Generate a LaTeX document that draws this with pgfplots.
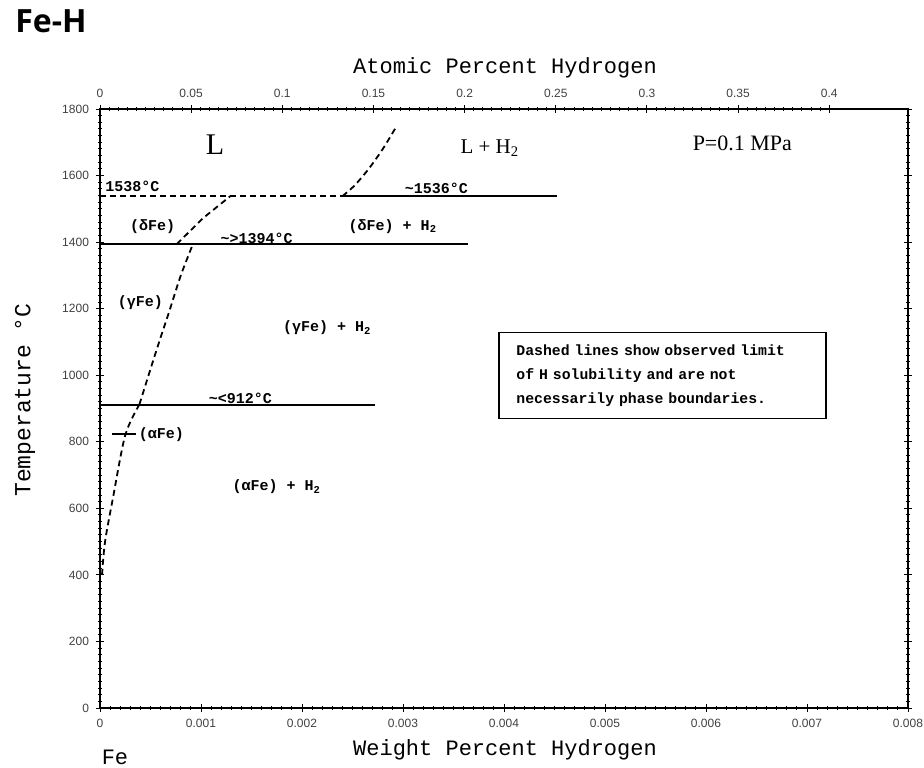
\documentclass[border=0pt]{standalone}
\usepackage{pgfplots}
\pgfplotsset{compat=1.18}
\usepackage{fontspec}
\setmainfont{Liberation Serif}
\newfontfamily\mono{Liberation Mono}
\newfontfamily\sans{Liberation Sans}
\newfontfamily\titlefont{Open Sans}
\tikzset{
  lbl/.style={font=\mono\bfseries\fontsize{7.5}{9}\selectfont},
  dsh/.style={black, line width=0.9pt, dash pattern=on 3pt off 2pt},
  sol/.style={black, line width=1pt},
}
\begin{document}
\begin{tikzpicture}
\pgfplotsset{
  common/.style={
    at={(0,0)}, anchor=south west, scale only axis,
    width=404pt, height=299.5pt,
    ymin=0, ymax=1800,
    tick align=center,
    major tick length=4pt, minor tick length=2pt,
    every tick/.style={black, line width=0.5pt},
    axis line style={line width=0.7pt},
    tick label style={font=\sans\fontsize{6}{7}\selectfont, text=black!75},
    /pgf/number format/assume math mode=true,
    /pgf/number format/1000 sep={},
    clip=false,
  }
}
\begin{axis}[common,
  xmin=0, xmax=0.008,
  xtick={0,0.001,0.002,0.003,0.004,0.005,0.006,0.007,0.008},
  xticklabels={0,0.001,0.002,0.003,0.004,0.005,0.006,0.007,0.008},
  scaled x ticks=false,
  ytick={0,200,400,600,800,1000,1200,1400,1600,1800},
  minor x tick num=9, minor y tick num=9,
  xtick pos=left, ytick pos=both, yticklabel pos=left,
]
% horizontal invariant lines
\addplot[dsh] coordinates {(0,1538) (0.00240,1538)};
\addplot[sol] coordinates {(0.00240,1538) (0.00452,1538)};
\addplot[sol] coordinates {(0,1394) (0.00364,1394)};
\addplot[sol] coordinates {(0,912) (0.00272,912)};
% liquidus (L / L+H2)
\addplot[dsh, smooth] coordinates {(0.00240,1538) (0.00252,1570) (0.00266,1620) (0.00280,1680) (0.00293,1745)};
% delta solvus
\addplot[dsh] coordinates {(0.00076,1394) (0.00102,1472) (0.00129,1538)};
% gamma solvus
\addplot[dsh, smooth] coordinates {(0.00039,912) (0.00056,1076) (0.00069,1196) (0.00080,1300) (0.00092,1394)};
% alpha solvus
\addplot[dsh, smooth] coordinates {(0.00002,400) (0.00005,500) (0.00013,634) (0.00025,820) (0.00039,912)};

\node[font=\rmfamily\fontsize{15}{16}\selectfont] at (axis cs:0.00114,1692) {L};
\node[font=\rmfamily\fontsize{10.5}{12}\selectfont] at (axis cs:0.00386,1683) {L + H\textsubscript{2}};
\node[font=\rmfamily\fontsize{11}{12}\selectfont] at (axis cs:0.00636,1698) {P=0.1 MPa};
\node[lbl, anchor=west, inner sep=0pt] at (axis cs:0.00005,1569) {1538°C};
\node[lbl] at (axis cs:0.00333,1563) {\textasciitilde1536°C};
\node[lbl] at (axis cs:0.00052,1448) {(δFe)};
\node[lbl] at (axis cs:0.00290,1448) {(δFe) + H\textsubscript{2}};
\node[lbl] at (axis cs:0.00155,1412) {\textasciitilde>1394°C};
\node[lbl] at (axis cs:0.00040,1217) {(γFe)};
\node[lbl] at (axis cs:0.00225,1142) {(γFe) + H\textsubscript{2}};
\node[lbl] at (axis cs:0.00139,931) {\textasciitilde<912°C};
\draw[line width=0.8pt] (axis cs:0.00012,823) -- (axis cs:0.00036,823);
\node[lbl, anchor=west, inner sep=1pt] at (axis cs:0.00036,823) {(αFe)};
\node[lbl] at (axis cs:0.00175,664) {(αFe) + H\textsubscript{2}};
\node[draw, line width=0.8pt, text width=146pt, align=left, inner xsep=8.75pt, inner ysep=6pt,
      font=\mono\bfseries\fontsize{7.4}{12}\selectfont]
  at (axis cs:0.005569,999) {Dashed lines show observed limit\\of H solubility and are not\\necessarily phase boundaries.};
\end{axis}
\begin{axis}[common,
  xmin=0, xmax=0.4432,
  axis x line*=top, axis y line=none,
  xtick={0,0.05,0.1,0.15,0.2,0.25,0.3,0.35,0.4},
  xticklabels={0,0.05,0.1,0.15,0.2,0.25,0.3,0.35,0.4},
  minor x tick num=9,
]
\end{axis}
% axis titles
\node[font=\mono\fontsize{11}{12}\selectfont] at (202.5pt,320pt) {Atomic Percent Hydrogen};
\node[font=\mono\fontsize{11}{12}\selectfont] at (202.5pt,-21pt) {Weight Percent Hydrogen};
\node[font=\mono\fontsize{11}{12}\selectfont] at (7.5pt,-24.5pt) {Fe};
\node[font=\mono\fontsize{11.5}{12}\selectfont, rotate=90] at (-37.5pt,154pt) {Temperature °C};
\node[font=\titlefont\bfseries\fontsize{16}{18}\selectfont, anchor=west, inner sep=0pt] at (-42.5pt,343.25pt) {Fe-H};
\pgfresetboundingbox
\path (-50pt,-29.5pt) rectangle (412pt,354pt);
\end{tikzpicture}
\end{document}
